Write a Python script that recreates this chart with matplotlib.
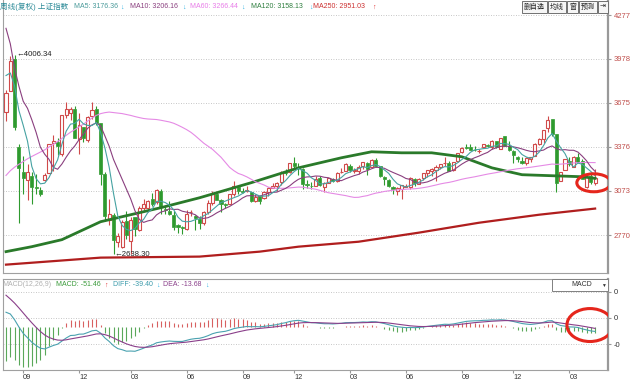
import numpy as np
import pandas as pd
import matplotlib
matplotlib.use('Agg')
import matplotlib.pyplot as plt
from matplotlib.patches import Ellipse, Rectangle

# 上证指数 weekly bars, 2015-08-03 .. 2018-04-09 (weeks without trading skipped)
opens = [3615, 3754, 3976, 3373, 3204, 3150, 3174, 3100, 3077, 3144, 3196, 3399, 3410, 3327, 3589, 3604, 3632, 3428, 3509, 3418, 3586, 3635,
         3536, 3190, 2872, 2910, 2723, 2688, 2864, 2732, 2890, 2803, 2958, 2957, 3016, 2999, 3071, 2951, 2936, 2909, 2837, 2822, 2813, 2927,
         2900, 2883, 2852, 2925, 2990, 3053, 3013, 2980, 2985, 3050, 3098, 3068, 3070, 3065, 3005, 3035, 3022, 3062, 3091, 3105, 3135, 3203,
         3200, 3266, 3238, 3220, 3116, 3108,
         3105, 3160, 3097, 3128, 3157, 3141, 3200, 3206, 3245, 3210, 3209, 3240, 3263, 3235, 3285, 3241, 3165, 3146, 3100, 3073, 3088, 3100,
         3100, 3155, 3119, 3158, 3193, 3207, 3212, 3238, 3261, 3263, 3216, 3276, 3337, 3370, 3373, 3355, 3343, 3373, 3385, 3372, 3413, 3361,
         3448, 3380, 3347, 3307, 3278, 3263, 3294,
         3314, 3392, 3430, 3500, 3566, 3459, 3137, 3212, 3279, 3236, 3307, 3274, 3097, 3171, 3127]
highs = [3764, 3994, 4006.34, 3390, 3314, 3256, 3203, 3185, 3097, 3198, 3394, 3457, 3435, 3590, 3684, 3646, 3654, 3604, 3509, 3582, 3684, 3653,
         3539, 3199, 3017, 2923, 2787, 2873, 2934, 2890, 2894, 2968, 3016, 3010, 3056, 3088, 3088, 2967, 3000, 2931, 2845, 2832, 2938, 2942,
         2905, 2902, 2937, 3009, 3069, 3055, 3016, 2986, 3050, 3140, 3100, 3093, 3105, 3065, 3051, 3037, 3069, 3099, 3128, 3130, 3210, 3221,
         3263, 3301, 3265, 3227, 3148, 3134,
         3172, 3175, 3136, 3160, 3160, 3203, 3228, 3262, 3254, 3228, 3248, 3270, 3270, 3288, 3295, 3244, 3173, 3153, 3106, 3099, 3112, 3119,
         3164, 3160, 3160, 3193, 3218, 3230, 3247, 3254, 3305, 3279, 3270, 3333, 3374, 3391, 3391, 3377, 3359, 3392, 3396, 3420, 3417, 3435,
         3450, 3412, 3353, 3311, 3304, 3302, 3307,
         3402, 3435, 3488, 3587, 3566, 3464, 3202, 3289, 3306, 3309, 3335, 3288, 3173, 3188, 3220]
lows = [3549, 3754, 3490, 2850, 3054, 3011, 2983, 3049, 3039, 3139, 3192, 3206, 3318, 3311, 3569, 3559, 3433, 3327, 3409, 3410, 3563, 3524,
        3115, 2867, 2839, 2638.30, 2688, 2683, 2742, 2639, 2763, 2795, 2939, 2928, 2967, 2982, 2913, 2915, 2910, 2806, 2781, 2780, 2805, 2898,
        2807, 2808, 2839, 2912, 2978, 3009, 2929, 2954, 2980, 3040, 3050, 3056, 3063, 2999, 2998, 2980, 3020, 3037, 3090, 3073, 3110, 3183,
        3192, 3219, 3182, 3086, 3093, 3087,
        3103, 3103, 3062, 3125, 3130, 3130, 3195, 3205, 3204, 3195, 3190, 3221, 3180, 3235, 3234, 3166, 3111, 3099, 3050, 3044, 3016, 3096,
        3087, 3108, 3116, 3146, 3166, 3176, 3139, 3222, 3244, 3205, 3210, 3271, 3333, 3362, 3350, 3343, 3333, 3365, 3371, 3357, 3367, 3359,
        3382, 3344, 3262, 3268, 3254, 3250, 3268,
        3314, 3385, 3402, 3477, 3446, 3062, 3137, 3212, 3241, 3236, 3264, 3152, 3092, 3121, 3110]
closes = [3744, 3965, 3508, 3232, 3160, 3200, 3097, 3092, 3053, 3183, 3391, 3412, 3383, 3590, 3632, 3631, 3436, 3524, 3434, 3578, 3627, 3539,
          3186, 2901, 2916, 2737, 2763, 2860, 2767, 2874, 2810, 2955, 2979, 3004, 2985, 3078, 2959, 2938, 2913, 2827, 2825, 2821, 2917, 2927,
          2885, 2854, 2930, 2988, 3054, 3013, 2979, 2976, 3050, 3108, 3070, 3067, 3078, 3002, 3033, 3005, 3063, 3091, 3104, 3125, 3196, 3193,
          3262, 3243, 3232, 3122, 3110, 3104,
          3154, 3112, 3123, 3159, 3140, 3197, 3202, 3253, 3218, 3212, 3237, 3269, 3222, 3286, 3246, 3173, 3154, 3103, 3083, 3090, 3110, 3105,
          3158, 3123, 3157, 3192, 3217, 3222, 3237, 3253, 3262, 3208, 3268, 3331, 3365, 3365, 3353, 3352, 3348, 3390, 3378, 3416, 3371, 3432,
          3382, 3353, 3317, 3289, 3266, 3297, 3307,
          3391, 3428, 3487, 3558, 3462, 3129, 3199, 3289, 3254, 3307, 3269, 3152, 3168, 3131, 3159]
# the 60 weekly closes before the first bar (2014-06 .. 2015-07)
pre_closes = [2070, 2024, 2036, 2059, 2047, 2059, 2127, 2194, 2188, 2226, 2241, 2217, 2326, 2331, 2329, 2347, 2364, 2374, 2341, 2302,
              2420, 2418, 2478, 2487, 2683, 2938, 2938, 3108, 3157, 3235, 3285, 3376, 3351, 3210, 3076, 3204, 3247, 3311, 3241, 3372,
              3617, 3691, 3865, 4034, 4287, 4393, 4480, 4206, 4308, 4657, 4611, 5023, 5166, 4478, 4192, 3686, 3877, 3957, 4070, 3664]

# long averages (bar index, value)
ma120_idx = [0, 6, 13, 22, 29, 36, 45, 57, 68, 78, 85, 92, 99, 106, 113, 120, 127, 134, 137]
ma120_val = [2656, 2690, 2738, 2861, 2909, 2957, 3025, 3128, 3230, 3299, 3340, 3333, 3333, 3306, 3230, 3183, 3176, 3169, 3158]
ma250_idx = [0, 22, 45, 59, 68, 82, 96, 110, 124, 137]
ma250_val = [2567, 2615, 2622, 2656, 2690, 2724, 2786, 2854, 2909, 2951]

price_ticks = [4277, 3978, 3675, 3376, 3073, 2770]
tick_idx = [4, 17, 29, 42, 55, 67, 80, 93, 106, 118, 131]
tick_lab = ['09', '12', '03', '06', '09', '12', '03', '06', '09', '12', '03']
macd_ticks = [300, 75, -150]
macd_tick_lab = ['0', '0', '-0']

RED = '#d04a4a'
GREEN = '#2e9a2e'
GRID = '#b4b4b4'
plt.rcParams['font.family'] = ['Liberation Sans', 'Noto Sans CJK SC', 'DejaVu Sans']

o = np.array(opens, float)
h = np.array(highs, float)
l = np.array(lows, float)
c = np.array(closes, float)
x = np.arange(len(c))
n_pre = len(pre_closes)

allc = pd.Series(pre_closes + closes, dtype=float)
ma5 = allc.rolling(5).mean().values[n_pre:]
ma10 = allc.rolling(10).mean().values[n_pre:]
ma60 = allc.rolling(60).mean().values[n_pre:]
ema12 = allc.ewm(span=12, adjust=False).mean()
ema26 = allc.ewm(span=26, adjust=False).mean()
dif = ema12 - ema26
dea = dif.ewm(span=9, adjust=False).mean()
hist = (2 * (dif - dea)).values[n_pre:]
dif = dif.values[n_pre:]
dea = dea.values[n_pre:]

W, H = 640, 380


def box(left, top, right, bottom):
    return [left / W, 1 - bottom / H, (right - left) / W, (bottom - top) / H]


def ftext(px, py, s, color, size=5.0, ha='left'):
    fig.text(px / W, 1 - py / H, s, color=color, fontsize=size, ha=ha, va='center')


fig = plt.figure(figsize=(6.4, 3.8), dpi=100)
ax = fig.add_axes(box(3, 0, 608, 273))
axm = fig.add_axes(box(3, 279, 608, 370), sharex=ax)

# ---- price panel
up = c >= o
top = np.maximum(o, c)
bot = np.minimum(o, c)
hgt = np.maximum(top - bot, 3)
cols = np.where(up, RED, GREEN)
ax.vlines(x, top, h, colors=cols, lw=0.8, zorder=2)
ax.vlines(x, l, bot, colors=cols, lw=0.8, zorder=2)
ax.bar(x[up], hgt[up], bottom=bot[up], width=0.72, facecolor='white', edgecolor=RED, lw=0.8, zorder=2)
ax.bar(x[~up], hgt[~up], bottom=bot[~up], width=0.72, facecolor=GREEN, edgecolor=GREEN, lw=0.5, zorder=2)

ax.plot(ma250_idx, ma250_val, color='#b01e1e', lw=1.6, zorder=3)
ax.plot(ma120_idx, ma120_val, color='#2a7a2a', lw=2.0, zorder=3)
ax.plot(x, ma60, color='#e58ae5', lw=0.8, zorder=3)
ax.plot(x, ma10, color='#8a3f7f', lw=0.8, zorder=3)
ax.plot(x, ma5, color='#46a2a2', lw=0.8, zorder=3)

i_hi = int(np.argmax(h))
i_lo = int(np.argmin(l))
ax.text(i_hi + 0.3, h[i_hi], '\u2190' + f'{h[i_hi]:.2f}', fontsize=5.6, color='#222', va='center', ha='left')
ax.text(i_lo + 0.3, l[i_lo], '\u2190' + f'{l[i_lo]:.2f}', fontsize=5.6, color='#222', va='center', ha='left')

ax.add_patch(Ellipse((x[-3:].mean() + 0.7, c[-3:].mean() - 25), 7.9, 123, fill=False, ec='#e5261c', lw=2.2, zorder=5))

px_per_pt = 44.0 / 301.4
ax.set_ylim(4277 - 258 / px_per_pt, 4277 + 15 / px_per_pt)
ax.set_xlim((3 - 6) / 4.3, (608 - 6) / 4.3)
ax.set_yticks(price_ticks)
ax.yaxis.tick_right()
ax.tick_params(axis='y', length=2, color='#999', labelcolor='#c0504d', labelsize=5.5, pad=2)
ax.tick_params(axis='x', length=0, labelbottom=False)
ax.grid(axis='y', color=GRID, ls=(0, (1, 2)), lw=0.6)

# ---- MACD panel
axm.vlines(x, 0, hist, colors=np.where(hist >= 0, '#d86060', '#5aa85a'), lw=0.8)
axm.plot(x, dif, color='#4aa2b0', lw=0.8)
axm.plot(x, dea, color='#8a3f8a', lw=0.8)
axm.add_patch(Ellipse((x[-3:].mean() - 0.2, 15), 10.7, 280, fill=False, ec='#e5261c', lw=2.2, zorder=5))
k = 8.5
axm.set_ylim(-(370 - 326.8) * k, (326.8 - 279) * k)
axm.set_yticks(macd_ticks)
axm.set_yticklabels(macd_tick_lab)
axm.yaxis.tick_right()
axm.tick_params(axis='y', length=2, color='#999', labelcolor='#333', labelsize=5.5, pad=2)
axm.grid(axis='y', color=GRID, ls=(0, (1, 2)), lw=0.6)
axm.set_xticks(tick_idx)
axm.set_xticklabels(tick_lab, ha='left')
axm.tick_params(axis='x', length=2.5, color='#999', labelcolor='#333', labelsize=5.3, pad=0.5)

for a in (ax, axm):
    for s in a.spines.values():
        s.set_color('#a0a0a0')
        s.set_linewidth(0.8)
    a.spines['right'].set_linewidth(1.6)
    a.spines['right'].set_color('#999')
ax.spines['top'].set_visible(False)

# ---- header rows
cyan = '#2ab0e0'
red_arrow = '#e03030'
ftext(0, 7, '周线(复权) 上证指数', '#2f8c99', size=5.5)
ftext(74, 7, 'MA5: 3176.36', '#4a9a9a')
ftext(120, 7, '\u2193', cyan)
ftext(130, 7, 'MA10: 3206.16', '#8a3f7f')
ftext(182, 7, '\u2193', cyan)
ftext(190, 7, 'MA60: 3266.44', '#e87de8')
ftext(241, 7, '\u2193', cyan)
ftext(251, 7, 'MA120: 3158.13', '#2f7f3f')
ftext(309, 7, '\u2193', cyan)
ftext(313, 7, 'MA250: 2951.03', '#cc3030')
ftext(372, 7, '\u2191', red_arrow)

buttons = [(522, 547, '删自选'), (548, 566, '均线'), (567, 578, '窗'), (579, 597, '预测'), (598, 608, '\u21e5')]
for b0, b1, lab in buttons:
    fig.add_artist(Rectangle((b0 / W, 1 - 13 / H), (b1 - b0) / W, 12 / H, transform=fig.transFigure,
                             facecolor='#f6f6f6', edgecolor='#707070', lw=0.7))
    ftext((b0 + b1) / 2, 7, lab, '#222', size=5.0, ha='center')

ftext(2, 285, 'MACD(12,26,9)', '#b0b0b0')
ftext(56, 285, 'MACD: -51.46', '#3a9a3a')
ftext(104, 285, '\u2191', red_arrow)
ftext(113, 285, 'DIFF: -39.40', '#3a9aaa')
ftext(156, 285, '\u2193', cyan)
ftext(163, 285, 'DEA: -13.68', '#8a3f8a')
ftext(205, 285, '\u2193', cyan)

fig.add_artist(Rectangle((552 / W, 1 - 291 / H), 56 / W, 12 / H, transform=fig.transFigure,
                         facecolor='white', edgecolor='#808080', lw=0.7))
ftext(582, 285, 'MACD', '#333', size=5.0, ha='center')
ftext(603, 285, '\u25bc', '#333', size=3.5, ha='center')

fig.savefig('out.png', dpi=100)
